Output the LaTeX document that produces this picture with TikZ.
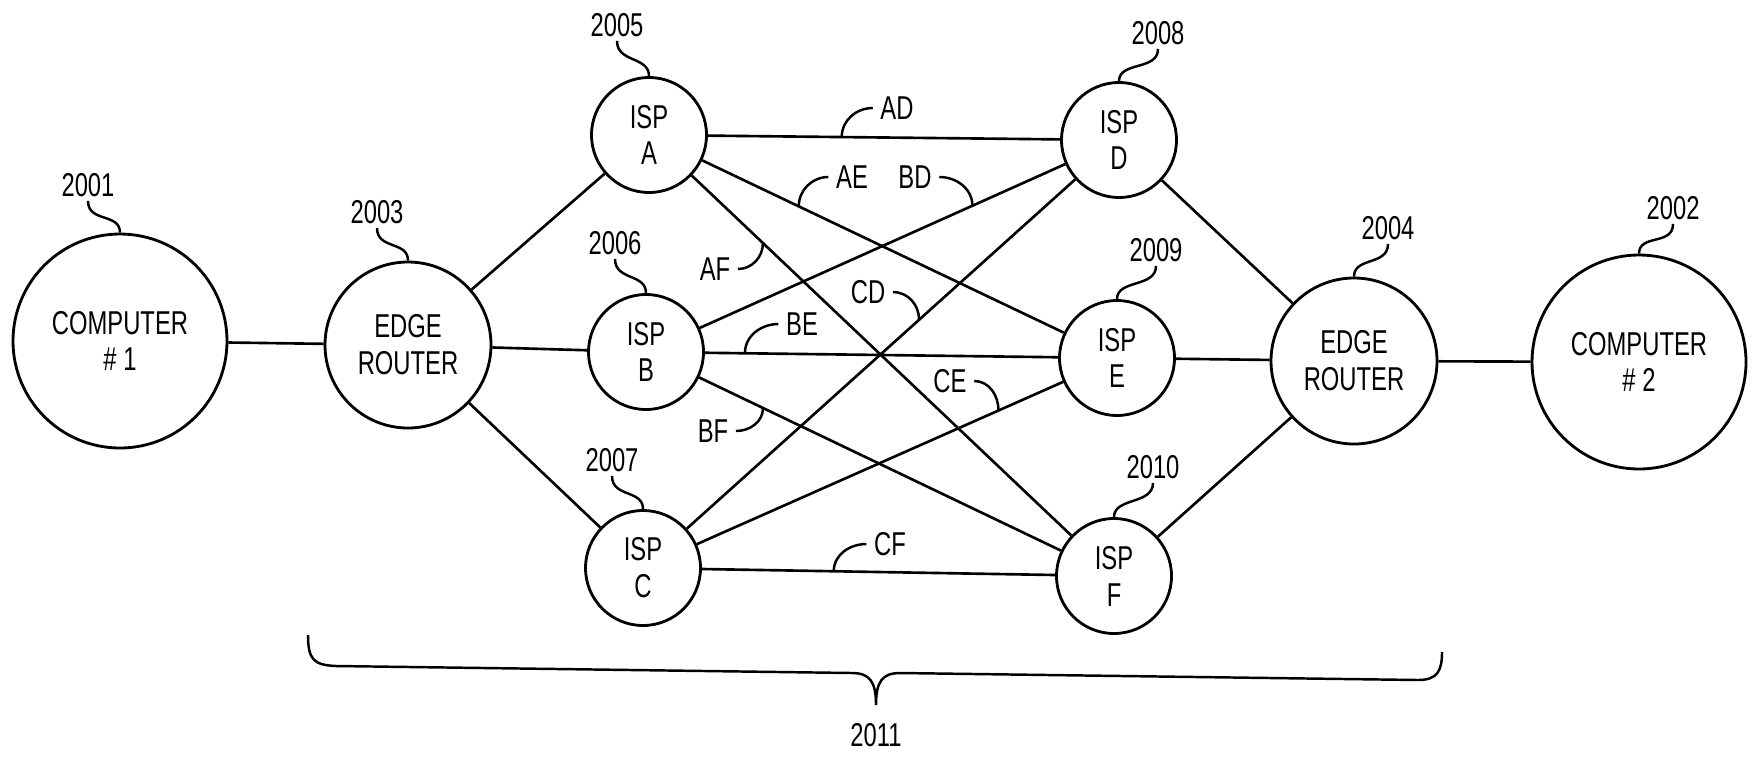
\documentclass[tikz,border=0pt]{standalone}
\usepackage{fontspec}
\setmainfont{Liberation Sans}[FakeStretch=0.72]

\begin{document}
\begin{tikzpicture}[
  font=\fontsize{9.4}{10.5}\selectfont,
  unit/.style={draw, circle, line width=0.8pt, align=center, inner sep=0pt},
  comp/.style={unit, minimum size=2.14cm},
  router/.style={unit, minimum size=1.66cm},
  isp/.style={unit, minimum size=1.15cm},
  link/.style={line width=0.75pt},
  lead/.style={line width=0.7pt},
  ref/.style={inner sep=1pt},
  tag/.style={inner sep=2pt}
]
\useasboundingbox (0,0) rectangle (17.53,7.58);

\node[comp] (comp1) at (1.20,4.17) {COMPUTER\\\# 1};
\node[router] (er1) at (4.08,4.13) {EDGE\\ROUTER};
\node[isp] (ispA) at (6.49,6.23) {ISP\\A};
\node[isp] (ispB) at (6.46,4.06) {ISP\\B};
\node[isp] (ispC) at (6.43,1.90) {ISP\\C};
\node[isp] (ispD) at (11.19,6.18) {ISP\\D};
\node[isp] (ispE) at (11.17,4.00) {ISP\\E};
\node[isp] (ispF) at (11.14,1.82) {ISP\\F};
\node[router] (er2) at (13.54,3.97) {EDGE\\ROUTER};
\node[comp] (comp2) at (16.39,3.96) {COMPUTER\\\# 2};

\draw[link] (comp1) -- (er1);
\draw[link] (er1) -- (ispA);
\draw[link] (er1) -- (ispB);
\draw[link] (er1) -- (ispC);
\draw[link] (ispA) -- (ispD);
\draw[link] (ispA) -- (ispE);
\draw[link] (ispA) -- (ispF);
\draw[link] (ispB) -- (ispD);
\draw[link] (ispB) -- (ispE);
\draw[link] (ispB) -- (ispF);
\draw[link] (ispC) -- (ispD);
\draw[link] (ispC) -- (ispE);
\draw[link] (ispC) -- (ispF);
\draw[link] (ispD) -- (er2);
\draw[link] (ispE) -- (er2);
\draw[link] (ispF) -- (er2);
\draw[link] (er2) -- (comp2);

\node[ref] (n2001) at (0.88,5.73) {2001};
\node[ref] (n2003) at (3.77,5.46) {2003};
\node[ref] (n2005) at (6.17,7.33) {2005};
\node[ref] (n2006) at (6.15,5.15) {2006};
\node[ref] (n2007) at (6.12,2.98) {2007};
\node[ref] (n2008) at (11.58,7.25) {2008};
\node[ref] (n2009) at (11.56,5.08) {2009};
\node[ref] (n2010) at (11.53,2.91) {2010};
\node[ref] (n2004) at (13.88,5.30) {2004};
\node[ref] (n2002) at (16.73,5.50) {2002};

\draw[lead] (n2001.south) .. controls +(0,-0.22) and +(0,0.2) .. (comp1.north);
\draw[lead] (n2003.south) .. controls +(0,-0.22) and +(0,0.2) .. (er1.north);
\draw[lead] (n2005.south) .. controls +(0,-0.22) and +(0,0.2) .. (ispA.north);
\draw[lead] (n2006.south) .. controls +(0,-0.22) and +(0,0.2) .. (ispB.north);
\draw[lead] (n2007.south) .. controls +(0,-0.22) and +(0,0.2) .. (ispC.north);
\draw[lead] (n2008.south) .. controls +(0,-0.22) and +(0,0.2) .. (ispD.north);
\draw[lead] (n2009.south) .. controls +(0,-0.22) and +(0,0.2) .. (ispE.north);
\draw[lead] (n2010.south) .. controls +(0,-0.22) and +(0,0.2) .. (ispF.north);
\draw[lead] (n2004.south) .. controls +(0,-0.22) and +(0,0.2) .. (er2.north);
\draw[lead] (n2002.south) .. controls +(0,-0.22) and +(0,0.2) .. (comp2.north);

\path (ispA.center) -- (ispD.center) coordinate[pos=0.41] (xAD);
\path (ispA.center) -- (ispE.center) coordinate[pos=0.32] (xAE);
\path (ispB.center) -- (ispD.center) coordinate[pos=0.69] (xBD);
\path (ispA.center) -- (ispF.center) coordinate[pos=0.245] (xAF);
\path (ispC.center) -- (ispD.center) coordinate[pos=0.58] (xCD);
\path (ispB.center) -- (ispE.center) coordinate[pos=0.21] (xBE);
\path (ispC.center) -- (ispE.center) coordinate[pos=0.75] (xCE);
\path (ispB.center) -- (ispF.center) coordinate[pos=0.25] (xBF);
\path (ispC.center) -- (ispF.center) coordinate[pos=0.405] (xCF);

\node[tag] (tAD) at (8.97,6.50) {AD};
\node[tag] (tAE) at (8.52,5.81) {AE};
\node[tag] (tBD) at (9.15,5.81) {BD};
\node[tag] (tAF) at (7.15,4.89) {AF};
\node[tag] (tCD) at (8.68,4.66) {CD};
\node[tag] (tBE) at (8.02,4.34) {BE};
\node[tag] (tCE) at (9.50,3.77) {CE};
\node[tag] (tBF) at (7.13,3.27) {BF};
\node[tag] (tCF) at (8.90,2.14) {CF};

\draw[lead] (xAD) to[out=90,in=180] (tAD.west);
\draw[lead] (xAE) to[out=90,in=180] (tAE.west);
\draw[lead] (tBD.east) to[out=0,in=90] (xBD);
\draw[lead] (tAF.east) to[out=0,in=-90] (xAF);
\draw[lead] (tCD.east) to[out=0,in=90] (xCD);
\draw[lead] (xBE) to[out=90,in=180] (tBE.west);
\draw[lead] (tCE.east) to[out=0,in=90] (xCE);
\draw[lead] (tBF.east) to[out=0,in=-90] (xBF);
\draw[lead] (xCF) to[out=90,in=180] (tCF.west);

\draw[lead] (3.08,1.23) .. controls (3.08,0.98) and (3.14,0.93) .. (3.36,0.92)
  -- (8.52,0.85) .. controls (8.70,0.85) and (8.76,0.76) .. (8.76,0.53)
  .. controls (8.76,0.76) and (8.82,0.85) .. (9.00,0.85)
  -- (14.18,0.78) .. controls (14.38,0.78) and (14.42,0.88) .. (14.42,1.06);
\node[ref] (n2011) at (8.76,0.23) {2011};
\end{tikzpicture}
\end{document}
